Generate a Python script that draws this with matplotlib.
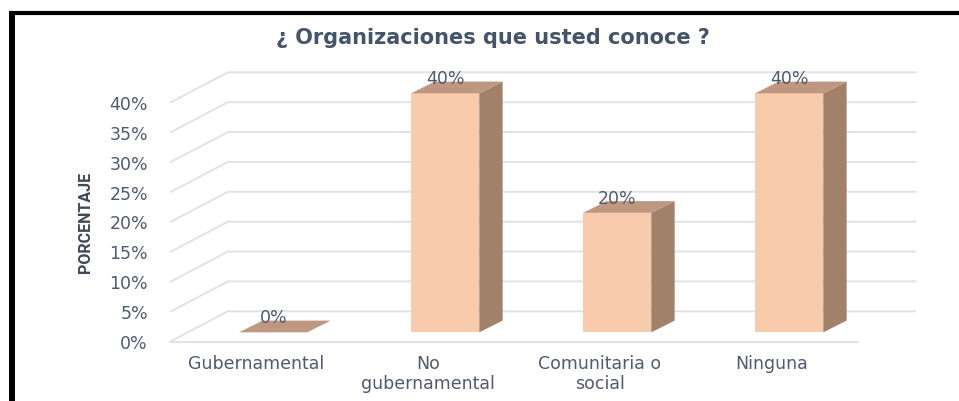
import matplotlib.pyplot as plt
from matplotlib.patches import Polygon
from matplotlib.lines import Line2D

categories = ["Gubernamental", "No\ngubernamental", "Comunitaria o\nsocial", "Ninguna"]
values = [0, 40, 20, 40]
value_labels = ["0%", "40%", "20%", "40%"]
ticks = [0, 5, 10, 15, 20, 25, 30, 35, 40]
tick_labels = ["0%", "5%", "10%", "15%", "20%", "25%", "30%", "35%", "40%"]

W, H = 959, 402
# pixel geometry of the front plane (category 0 centre = 256px, 0% = 342.7px)
px_per_cat = 172.0
px_per_pct = 5.975
x0_px, y0_px = 256.0, 342.7

# 3d-look offsets, in data units
wall_dx, wall_dy = 0.337, 5.09      # depth of the back wall
wall_right = 3.84                   # back gridlines end here
bar_fx, bar_fy = 0.10, 1.57         # front face of the bars sits this far back
bar_dx, bar_dy = 0.136, 1.96        # depth of each bar
bar_half = 0.198

FRONT = "#F8CBAD"
SIDE = "#A2816B"
TOP = "#BF9780"
GRID = "#DFE2E9"
TEXT = "#4F5B6E"

fig = plt.figure(figsize=(W / 100, H / 100), dpi=100)
ax = fig.add_axes([0, 0, 1, 1])
ax.set_xlim(-x0_px / px_per_cat, (W - x0_px) / px_per_cat)
ax.set_ylim(-(H - y0_px) / px_per_pct, y0_px / px_per_pct)
ax.axis("off")

# gridlines: diagonal on the left side wall, horizontal on the back wall
left = -0.5
for p in ticks:
    ax.plot([left, left + wall_dx, wall_right], [p, p + wall_dy, p + wall_dy],
            color=GRID, lw=1.4, zorder=1, solid_capstyle="butt")
ax.plot([left, len(categories) - 0.5], [0, 0], color=GRID, lw=1.4, zorder=1)

for t, lab in zip(ticks, tick_labels):
    ax.text(left - 0.128, t - 0.2, lab, ha="right", va="center", fontsize=12.5,
            color=TEXT)

# bars: front face, right side and top
for i, v in enumerate(values):
    xa = i - bar_half + bar_fx
    xb = i + bar_half + bar_fx
    yb = bar_fy
    yt = bar_fy + v
    if v > 0:
        ax.add_patch(Polygon([(xa, yb), (xb, yb), (xb, yt), (xa, yt)],
                             closed=True, fc=FRONT, ec="none", zorder=3))
        ax.add_patch(Polygon([(xb, yb), (xb + bar_dx, yb + bar_dy),
                              (xb + bar_dx, yt + bar_dy), (xb, yt)],
                             closed=True, fc=SIDE, ec="none", zorder=3))
    ax.add_patch(Polygon([(xa, yt), (xb, yt), (xb + bar_dx, yt + bar_dy),
                          (xa + bar_dx, yt + bar_dy)],
                         closed=True, fc=TOP, ec="none", zorder=3))
    ax.text(i + bar_fx, v + 4.1, value_labels[i], ha="center", va="center",
            fontsize=12.5, color=TEXT, zorder=4)

for i, c in enumerate(categories):
    ax.text(i, -2.0, c, ha="center", va="top", fontsize=12.5, color=TEXT,
            linespacing=1.2)

ax.text(-0.99, 20.1, "PORCENTAJE", rotation=90, ha="center", va="center",
        fontsize=11.5, fontweight="bold", color="#3E4859",
        family=["Roboto", "DejaVu Sans"])

fig.text(0.514, 1 - 38 / H, "\u00bf Organizaciones que usted conoce ?",
         ha="center", va="center", fontsize=15, fontweight="bold", color="#44546A")

# frame lines on top and left
top_y = 1 - 14 / H
fig.add_artist(Line2D([9 / W, 1], [top_y, top_y], color="black", lw=3,
                      solid_capstyle="butt", transform=fig.transFigure))
fig.add_artist(Line2D([12 / W, 12 / W], [0, top_y], color="black", lw=4.3,
                      solid_capstyle="butt", transform=fig.transFigure))

fig.savefig("out.png", dpi=100)
